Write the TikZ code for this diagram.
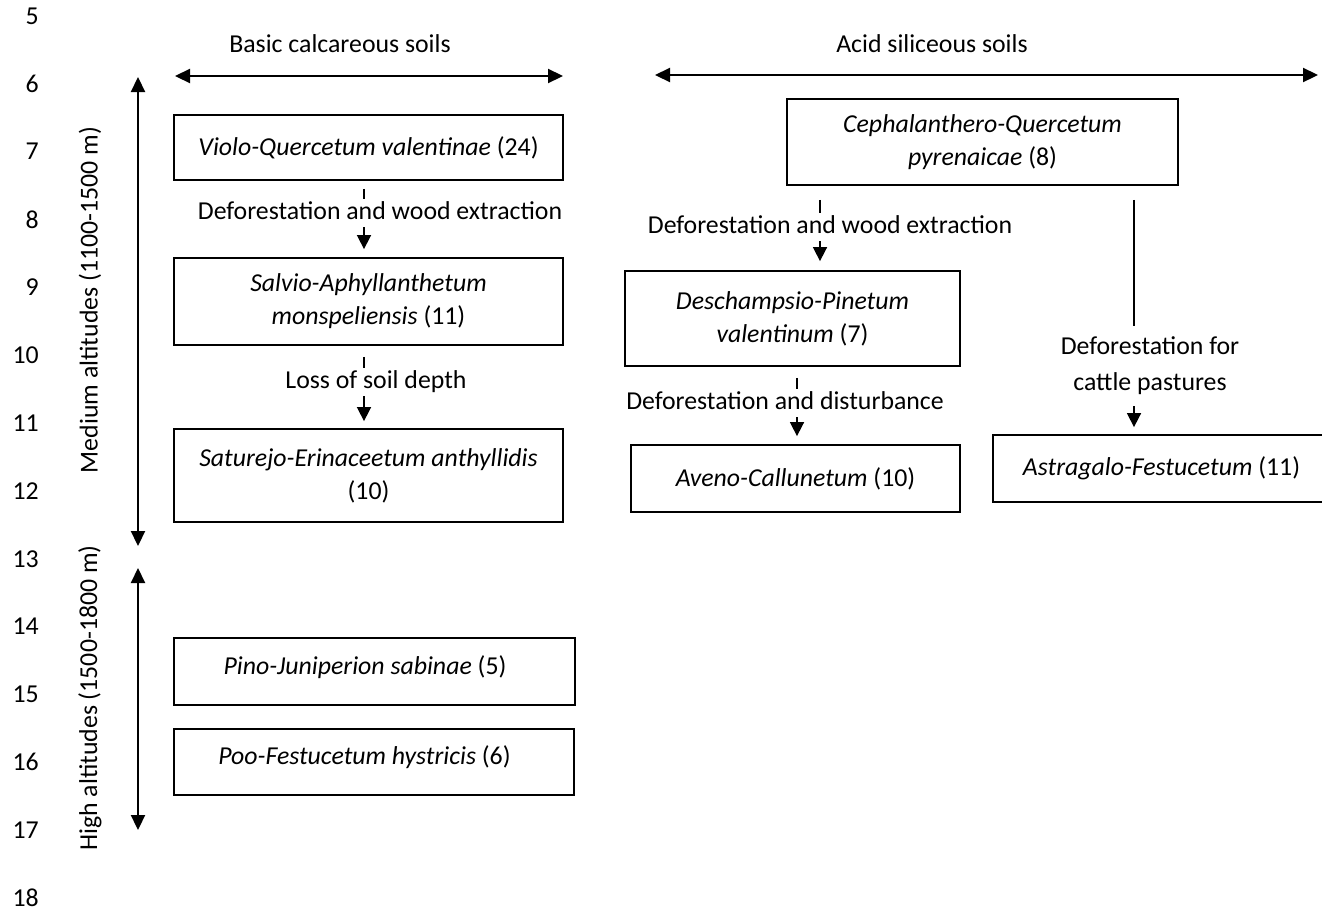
\documentclass[tikz,border=0pt]{standalone}
\usepackage{fontspec}
\setmainfont{Carlito}
\usetikzlibrary{arrows.meta}
\newcommand\myfont{\fontsize{25.8pt}{33pt}\selectfont}
\newcommand\myfontwide{\fontsize{25.8pt}{36pt}\selectfont}
\tikzset{
  txt/.style={font=\myfont, inner sep=0pt},
  lnum/.style={font=\myfont, inner sep=0pt, anchor=east},
  box/.style 2 args={draw, line width=1.8pt, minimum width=#1pt, minimum height=#2pt,
      align=center, inner sep=0pt, font=\myfont},
  highbox/.style={text height=19pt, text depth=14pt},
  dbl/.style={line width=2.2pt, {Triangle[length=15pt,width=14pt]}-{Triangle[length=15pt,width=14pt]}},
  conn/.style={line width=1.6pt, -{Triangle[length=14pt,width=14pt]}},
  lbl/.style={fill=white, font=\myfont, inner xsep=2pt, inner ysep=1.8pt, text height=19pt, text depth=6pt},
  lbltwo/.style={fill=white, font=\myfontwide, align=center, inner xsep=2pt, inner ysep=11pt}
}
\begin{document}
\begin{tikzpicture}[x=1pt,y=-1pt]
\useasboundingbox (0,0) rectangle (1322,911);
% line numbers
\foreach \n [count=\i from 0] in {5,...,18}
  \node[lnum] (ln\n) at (39,16+67.85*\i) {\n};
% headers
\node[txt] (hbasic) at (340,44) {Basic calcareous soils};
\node[txt] (hacid) at (932,44) {Acid siliceous soils};
% range arrows
\coordinate (bl) at (175,76);
\coordinate (br) at (563,76);
\coordinate (al) at (655,75);
\coordinate (ar) at (1318,75);
\coordinate (mt) at (138,77);
\coordinate (mb) at (138,546);
\coordinate (hit) at (138,568);
\coordinate (hib) at (138,830);
\draw[dbl] (bl) -- (br);
\draw[dbl] (al) -- (ar);
\draw[dbl] (mt) -- (mb);
\draw[dbl] (hit) -- (hib);
\node[txt, rotate=90] (lmed) at (90,300) {Medium altitudes (1100-1500 m)};
\node[txt, rotate=90] (lhigh) at (90,698) {High altitudes (1500-1800 m)};
% boxes
\node[box={389}{65}] (viol) at (368.5,147.5) {\textit{Violo-Quercetum valentinae} (24)};
\node[box={389}{87}] (salv) at (368.5,301.5) {\textit{Salvio-Aphyllanthetum}\\\textit{monspeliensis} (11)};
\node[box={389}{93}] (satu) at (368.5,475.5) {\textit{Saturejo-Erinaceetum anthyllidis}\\(10)};
\node[box={401}{67}, highbox] (pino) at (374.5,671.5) {\textit{Pino-Juniperion sabinae} (5)\hspace*{19pt}};
\node[box={400}{66}, highbox] (poo) at (374,762) {\textit{Poo-Festucetum hystricis} (6)\hspace*{19pt}};
\node[box={391}{86}] (ceph) at (982.5,142) {\textit{Cephalanthero-Quercetum}\\\textit{pyrenaicae} (8)};
\node[box={335}{95}] (desc) at (792.5,318.5) {\textit{Deschampsio-Pinetum}\\\textit{valentinum} (7)};
\node[box={329}{67}] (aven) at (795.5,478.5) {\textit{Aveno-Callunetum} (10)};
\node[box={337}{67}] (astr) at (1161.5,468.5) {\textit{Astragalo-Festucetum} (11)};
% connectors
\coordinate (c1) at (364,0);
\coordinate (c3) at (820,0);
\coordinate (c4) at (797,0);
\coordinate (c5) at (1134,0);
\draw[conn, shorten <=8pt, shorten >=8pt] (viol.south -| c1) -- (salv.north -| c1);
\draw[conn, shorten <=11pt, shorten >=7pt] (salv.south -| c1) -- (satu.north -| c1);
\draw[conn, shorten <=14pt, shorten >=9pt] (ceph.south -| c3) -- (desc.north -| c3);
\draw[conn, shorten <=11pt, shorten >=8pt] (desc.south -| c4) -- (aven.north -| c4);
\draw[conn, shorten <=14pt, shorten >=7pt] (ceph.south -| c5) -- (astr.north -| c5);
% connector labels
\node[lbl] (l1) at (380,213) {Deforestation and wood extraction};
\node[lbl] (l2) at (376,382) {Loss of soil depth};
\node[lbl] (l3) at (830,227) {Deforestation and wood extraction};
\node[lbl] (l4) at (785,403) {Deforestation and disturbance};
\node[lbltwo] (l5) at (1150,366) {Deforestation for\\cattle pastures};
\end{tikzpicture}
\end{document}
